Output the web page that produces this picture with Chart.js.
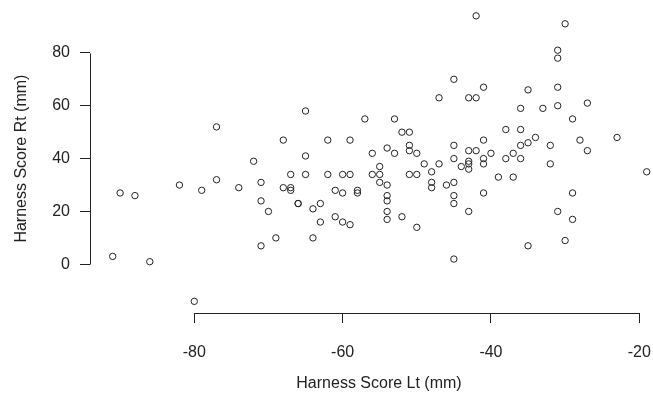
<!DOCTYPE html>
<html>
<head>
<meta charset="utf-8">
<script src="https://cdn.jsdelivr.net/npm/chart.js@4"></script>
<style>
  html, body { margin: 0; padding: 0; background: #fff; overflow: hidden; }
  canvas { display: block; }
</style>
</head>
<body>
<canvas id="scatterChart" width="680" height="397"></canvas>
<script>
// Harness score, left vs right (mm)
const scoreLt = [
  -90, -88, -82, -79, -77, -74, -91, -86, -80, -77,
  -65, -57, -68, -62, -59, -56, -65, -72, -67, -65,
  -62, -60, -59, -56, -71, -68, -67, -67, -61, -60,
  -58, -58, -71, -70, -66, -66, -64, -63, -63, -61,
  -60, -59, -69, -64, -71,
  -53, -52, -51, -45, -41, -51, -51, -50, -54, -53,
  -49, -47, -48, -45, -43, -42, -40, -43, -43, -43,
  -44, -41, -41, -39, -55, -55, -55, -54, -54, -54,
  -54, -54, -52, -50, -51, -50, -48, -48, -46, -45,
  -45, -45, -41, -43, -45,
  -41, -43, -42, -35, -31, -27, -36, -33, -31, -29,
  -38, -36, -37, -36, -35, -34, -32, -28, -27, -38,
  -36, -32, -37, -29, -31, -29, -35, -30,
  -30, -31, -31, -23, -19, -42, -45, -47
];
const scoreRt = [
  27, 26, 30, 28, 32, 29, 3, 1, -14, 52,
  58, 55, 47, 47, 47, 42, 41, 39, 34, 34,
  34, 34, 34, 34, 31, 29, 29, 28, 28, 27,
  28, 27, 24, 20, 23, 23, 21, 23, 16, 18,
  16, 15, 10, 10, 7,
  55, 50, 50, 45, 47, 45, 43, 42, 44, 42,
  38, 38, 35, 40, 43, 43, 42, 39, 38, 36,
  37, 40, 38, 33, 37, 34, 31, 30, 26, 24,
  20, 17, 18, 14, 34, 34, 31, 29, 30, 31,
  26, 23, 27, 20, 2,
  67, 63, 63, 66, 67, 61, 59, 59, 60, 55,
  51, 51, 42, 45, 46, 48, 45, 47, 43, 40,
  40, 38, 33, 27, 20, 17, 7, 9,
  91, 81, 78, 48, 35, 94, 70, 63
];
const xTicks = [-80, -60, -40, -20];
const yTicks = [0, 20, 40, 60, 80];

const ink = '#222222';
const fontFamily = '"Liberation Sans", Arial, Helvetica, sans-serif';

const points = scoreLt.map((v, i) => ({ x: v, y: scoreRt[i] }));

// R-style axis lines that only run from the first to the last tick
const rAxisLines = {
  id: 'rAxisLines',
  afterDraw(chart) {
    const { ctx, chartArea } = chart;
    const xs = chart.scales.x;
    const ys = chart.scales.y;
    const yb = Math.round(chartArea.bottom) + 0.5;
    const xl = Math.round(chartArea.left) + 0.5;
    ctx.save();
    ctx.strokeStyle = ink;
    ctx.lineWidth = 1;
    ctx.beginPath();
    ctx.moveTo(Math.round(xs.getPixelForValue(xTicks[0])) + 0.5, yb);
    ctx.lineTo(Math.round(xs.getPixelForValue(xTicks[xTicks.length - 1])) + 0.5, yb);
    ctx.moveTo(xl, Math.round(ys.getPixelForValue(yTicks[0])) + 0.5);
    ctx.lineTo(xl, Math.round(ys.getPixelForValue(yTicks[yTicks.length - 1])) + 0.5);
    ctx.stroke();
    ctx.restore();
  }
};

// no extra room for tick labels: the plot region is fixed like in R
function noLabelPadding(axis) {
  axis.paddingTop = 0;
  axis.paddingBottom = 0;
  axis.paddingLeft = 0;
  axis.paddingRight = 0;
}

new Chart(document.getElementById('scatterChart').getContext('2d'), {
  type: 'scatter',
  data: {
    datasets: [{
      data: points,
      pointStyle: 'circle',
      pointRadius: 3.2,
      pointHoverRadius: 3.2,
      borderWidth: 1,
      borderColor: ink,
      backgroundColor: 'rgba(0,0,0,0)',
      clip: false
    }]
  },
  options: {
    responsive: false,
    animation: false,
    events: [],
    layout: { padding: { left: 0, right: 12, top: 4, bottom: 0 } },
    plugins: { legend: { display: false }, tooltip: { enabled: false } },
    scales: {
      x: {
        type: 'linear',
        min: -94.06,
        max: -16.13,
        afterBuildTicks: (axis) => { axis.ticks = xTicks.map(v => ({ value: v })); },
        afterFit: (axis) => { axis.height = 84; noLabelPadding(axis); },
        border: { display: false },
        grid: { drawOnChartArea: false, drawTicks: true, tickLength: 10, color: ink, lineWidth: 1 },
        ticks: { color: ink, padding: 20, maxRotation: 0, font: { family: fontFamily, size: 16 } },
        title: {
          display: true,
          text: 'Harness Score Lt (mm)',
          color: ink,
          font: { family: fontFamily, size: 16 },
          padding: { top: 0, bottom: 4 }
        }
      },
      y: {
        type: 'linear',
        min: -18.41,
        max: 98.41,
        afterBuildTicks: (axis) => { axis.ticks = yTicks.map(v => ({ value: v })); },
        afterFit: (axis) => { axis.width = 90; noLabelPadding(axis); },
        border: { display: false },
        grid: { drawOnChartArea: false, drawTicks: true, tickLength: 10, color: ink, lineWidth: 1 },
        ticks: { color: ink, padding: 10, font: { family: fontFamily, size: 16 } },
        title: {
          display: true,
          text: 'Harness Score Rt (mm)',
          color: ink,
          font: { family: fontFamily, size: 16 },
          padding: { top: 12, bottom: 0 }
        }
      }
    }
  },
  plugins: [rAxisLines]
});
</script>
</body>
</html>
